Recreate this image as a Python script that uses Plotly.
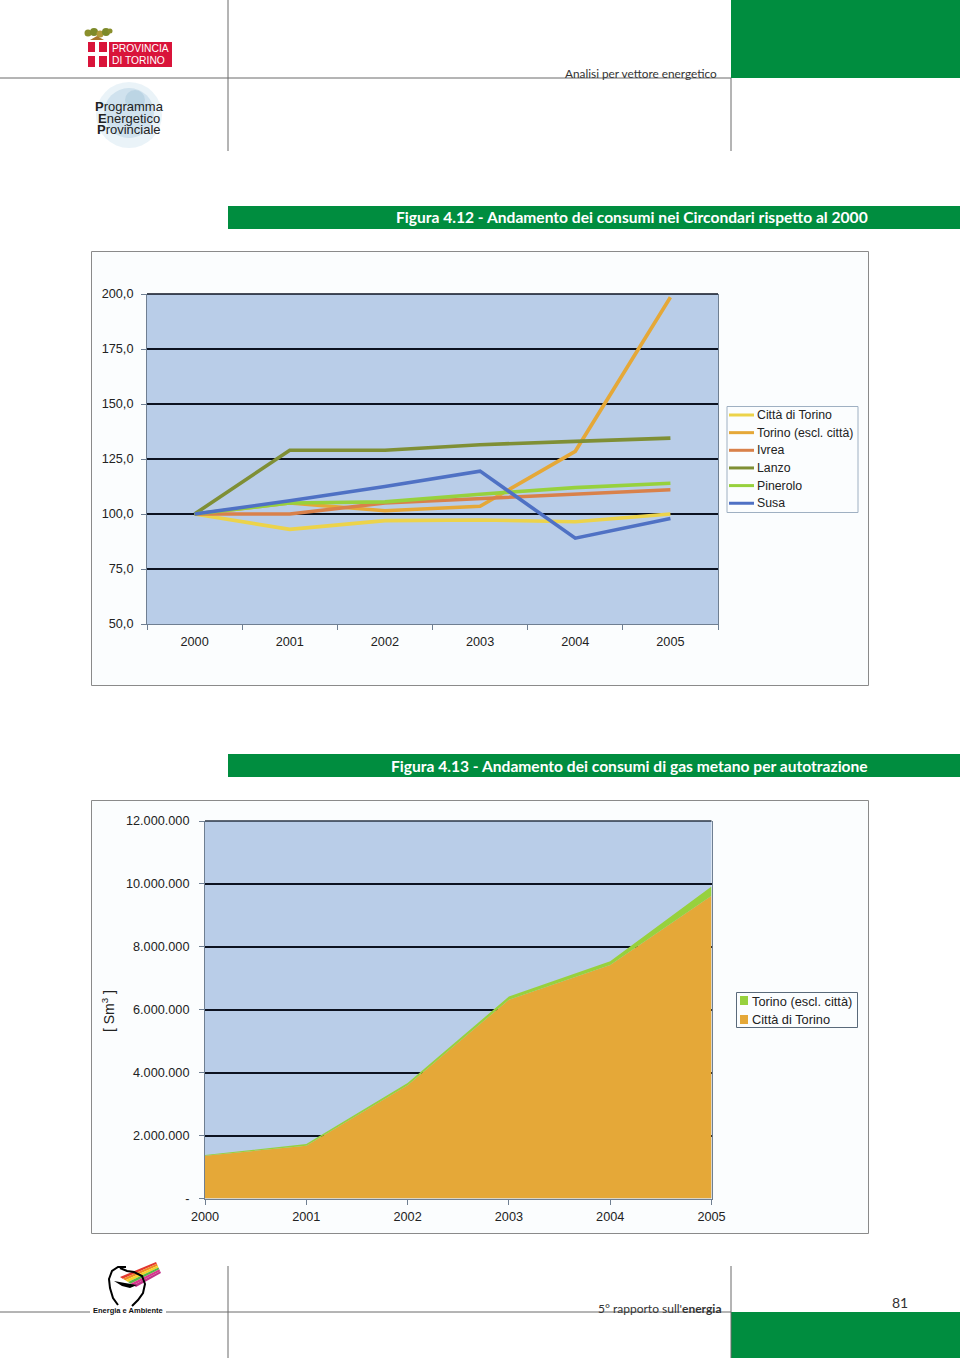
import plotly.graph_objects as go

W, H = 960, 1358

# ---------- data ----------
years = ["2000", "2001", "2002", "2003", "2004", "2005"]
citta = [100, 93, 97, 97.3, 96.5, 100]
torino = [100, 105, 101.5, 103.5, 128.5, 198.5]
ivrea = [100, 100, 105, 107, 109, 111]
lanzo = [100, 129, 129, 131.5, 133, 134.5]
pinerolo = [100, 105, 105.5, 109, 112, 114]
susa = [100, 106, 112.5, 119.5, 89, 98]

index_ticks = [50, 75, 100, 125, 150, 175, 200]
index_labels = ["50,0", "75,0", "100,0", "125,0", "150,0", "175,0", "200,0"]

gas_citta = [1360000, 1680000, 3600000, 6320000, 7420000, 9620000]
gas_torino = [20000, 50000, 70000, 100000, 120000, 300000]
gas_ticks = [0, 2000000, 4000000, 6000000, 8000000, 10000000, 12000000]
gas_labels = ["-", "2.000.000", "4.000.000", "6.000.000", "8.000.000", "10.000.000", "12.000.000"]

title_1 = "Figura 4.12 - Andamento dei consumi nei Circondari rispetto al 2000"
title_2 = "Figura 4.13 - Andamento dei consumi di gas metano per autotrazione"

# ---------- styles ----------
ARIAL = "Liberation Sans"
TITLE_FONT = "Lato"
GREEN = "#008d3f"
LINE = "#6a6a6a"
PLOT_BG = "#b9cde8"
GRID = "#0c1220"
AXIS = "#6f7f92"
C_CITTA = "#ecd34a"
C_TORINO = "#e5a838"
C_IVREA = "#d9814a"
C_LANZO = "#7f8f35"
C_PIN = "#97d13d"
C_SUSA = "#4f71c4"


def X(p):
    return p / W


def Y(p):
    return 1 - p / H


def rect(x0, y0, x1, y1, fill, line=None, lw=1, layer="below"):
    return dict(type="rect", xref="paper", yref="paper", x0=X(x0), x1=X(x1), y0=Y(y0), y1=Y(y1),
                fillcolor=fill, line=dict(color=line or fill, width=lw if line else 0), layer=layer)


def seg(x0, y0, x1, y1, color=LINE, lw=1, layer="below"):
    return dict(type="line", xref="paper", yref="paper", x0=X(x0), x1=X(x1), y0=Y(y0), y1=Y(y1),
                line=dict(color=color, width=lw), layer=layer)


def circ(cx, cy, r, fill, op=1.0):
    return dict(type="circle", xref="paper", yref="paper", x0=X(cx - r), x1=X(cx + r), y0=Y(cy + r), y1=Y(cy - r),
                fillcolor=fill, opacity=op, line=dict(width=0), layer="below")


def poly(pts, fill, line=None, lw=0, close=True):
    d = "M " + " L ".join(f"{X(a):.5f},{Y(b):.5f}" for a, b in pts) + (" Z" if close else "")
    return dict(type="path", xref="paper", yref="paper", path=d, fillcolor=fill if close else "rgba(0,0,0,0)",
                line=dict(color=line or fill, width=lw), layer="below")


def text(x, y, s, size, color="#222", family=ARIAL, anchor="left", **kw):
    return dict(xref="paper", yref="paper", x=X(x), y=Y(y), text=s, showarrow=False, xanchor=anchor, yanchor="middle",
                font=dict(size=size, color=color, family=family), borderpad=0, **kw)


shapes = [
    rect(91.5, 251.5, 868.5, 685.5, "#fbfdfe", "#8a8a8a", 1),
    rect(91.5, 800.5, 868.5, 1233.5, "#fbfdfe", "#8a8a8a", 1),
    rect(147, 294, 718, 624, PLOT_BG),
    rect(205, 821, 711.5, 1198.5, PLOT_BG),
    seg(147, 294, 718, 294, GRID, 1.6),
    seg(205, 821, 711.5, 821, "#2a3444", 1.4),
    rect(731, 0, 960, 78, GREEN),
    rect(731, 1312, 960, 1358, GREEN),
    rect(228, 206, 960, 229, GREEN),
    rect(228, 754, 960, 777, GREEN),
    seg(0, 78, 731, 78),
    seg(228, 0, 228, 151),
    seg(731, 78, 731, 151),
    seg(0, 1312, 90, 1312),
    seg(166, 1312, 731, 1312),
    seg(228, 1266, 228, 1358),
    seg(731, 1266, 731, 1358),
    # Provincia di Torino logo
    rect(88, 42, 172, 67, "#d9143a"),
    rect(107, 42, 109, 67, "#ffffff"),
    rect(95, 42, 99, 67, "#ffffff"),
    rect(88, 52, 107, 56, "#ffffff"),
    circ(88, 33, 3.5, "#8a8f2c"),
    circ(94, 32, 4, "#7d8a2a"),
    circ(100, 34, 3.5, "#b09a3a"),
    circ(106, 32, 4, "#7d8a2a"),
    circ(110, 31, 2.5, "#8a8f2c"),
    poly([(90, 40), (97, 36), (104, 40)], "#a8762c"),
    # Programma Energetico globe
    circ(129, 115, 33, "#dcebf4", 0.6),
    circ(129, 113, 25, "#b5d2e4", 0.5),
    circ(135, 100, 10, "#8fb5cd", 0.3),
]

# Energia e Ambiente logo
rainbow = ["#e2382f", "#f08a24", "#f5d327", "#58b947", "#d9368f", "#c2338a"]
n = len(rainbow)
L0, L1, R0, R1 = (120, 1277), (136, 1287), (156, 1262), (161, 1273)


def mix(a, b, t):
    return (a[0] + (b[0] - a[0]) * t, a[1] + (b[1] - a[1]) * t)


for i, c in enumerate(rainbow):
    shapes.append(poly([mix(L0, L1, i / n), mix(R0, R1, i / n), mix(R0, R1, (i + 1) / n), mix(L0, L1, (i + 1) / n)], c))
shapes += [
    poly([(126, 1267), (118, 1267), (112, 1271), (109, 1279), (110, 1288), (113, 1298), (118, 1305)],
         "#000", "#000", 2, close=False),
    poly([(120, 1268), (127, 1271), (134, 1272), (142, 1276), (145, 1284), (143, 1293), (138, 1300), (132, 1306)],
         "#000", "#000", 2, close=False),
    poly([(114, 1281), (125, 1283), (137, 1285), (130, 1288), (122, 1286)], "#000"),
]

annotations = [
    text(869, 217, "<b>" + title_1 + "</b>", 15.6, "#ffffff", TITLE_FONT, "right"),
    text(869, 766, "<b>" + title_2 + "</b>", 15.6, "#ffffff", TITLE_FONT, "right"),
    text(718, 73.5, "Analisi per vettore energetico", 11.8, "#333", "Lato", "right"),
    text(722, 1308, "5° rapporto sull'<b>energia</b>", 12, "#333", "Lato", "right"),
    text(900, 1302, "81", 14, "#333", "Lato", "center"),
    text(111, 48.5, "PROVINCIA", 10.3, "#ffffff"),
    text(111, 60.5, "DI TORINO", 10.3, "#ffffff"),
    text(129, 106.5, "<b>P</b>rogramma", 13, "#222", anchor="center"),
    text(129, 118, "<b>E</b>nergetico", 13, "#222", anchor="center"),
    text(129, 129.5, "<b>P</b>rovinciale", 13, "#222", anchor="center"),
    text(128, 1310, "<b>Energia e Ambiente</b>", 7.5, "#111", anchor="center"),
    text(108, 1011, "[ Sm<sup>3</sup> ]", 14, anchor="center", textangle=-90),
]

series = [("Città di Torino", citta, C_CITTA), ("Torino (escl. città)", torino, C_TORINO), ("Ivrea", ivrea, C_IVREA),
          ("Lanzo", lanzo, C_LANZO), ("Pinerolo", pinerolo, C_PIN), ("Susa", susa, C_SUSA)]

# legend of the index chart
shapes.append(rect(727, 406.5, 858, 512.5, "#fbfdfe", "#9fb0c2", 1))
for i, (name, _, col) in enumerate(series):
    yy = 415 + i * 17.65
    shapes.append(seg(729, yy, 754, yy, col, 3))
    annotations.append(text(755.5, yy, name, 12.3))

# legend of the gas chart
shapes += [
    rect(736.5, 992.5, 857.5, 1027.5, "#fbfdfe", "#5a6a7a", 1),
    rect(740, 996, 748, 1005, C_PIN),
    rect(740, 1015, 748, 1024, C_TORINO),
]
annotations += [text(750.5, 1001, "Torino (escl. città)", 12.8), text(750.5, 1019, "Città di Torino", 12.8)]

fig = go.Figure()

for name, vals, col in series:
    fig.add_trace(go.Scatter(x=years, y=vals, name=name, mode="lines", line=dict(color=col, width=3.6),
                             xaxis="x", yaxis="y", showlegend=False))

fig.add_trace(go.Scatter(x=years, y=gas_citta, name="Città di Torino", mode="lines", stackgroup="gas",
                         line=dict(width=0, color=C_TORINO), fillcolor=C_TORINO, xaxis="x2", yaxis="y2",
                         showlegend=False))
fig.add_trace(go.Scatter(x=years, y=gas_torino, name="Torino (escl. città)", mode="lines", stackgroup="gas",
                         line=dict(width=0, color=C_PIN), fillcolor=C_PIN, xaxis="x2", yaxis="y2",
                         showlegend=False))

tick_font = dict(family=ARIAL, size=12.7, color="#222")
common_axis = dict(showline=True, linecolor=AXIS, linewidth=1, ticks="outside", tickcolor=AXIS, ticklen=5,
                   tickfont=tick_font, zeroline=False, automargin=False)

fig.update_layout(
    width=W, height=H, autosize=False,
    margin=dict(l=0, r=0, t=0, b=0, pad=0),
    paper_bgcolor="#ffffff", plot_bgcolor="rgba(0,0,0,0)",
    shapes=shapes, annotations=annotations,
    font=dict(family=ARIAL),
    xaxis=dict(common_axis, type="category", categoryorder="array", categoryarray=years, range=[-0.5, 5.5],
               tickson="boundaries", domain=[X(147), X(718)], anchor="y", showgrid=False, ticklabelstandoff=6),
    yaxis=dict(common_axis, range=[50, 200], tickvals=index_ticks, ticktext=index_labels, mirror=True,
               domain=[Y(624), Y(294)], anchor="x", showgrid=True, gridcolor=GRID, gridwidth=1.6, ticklabelstandoff=5),
    xaxis2=dict(common_axis, type="category", categoryorder="array", categoryarray=years, range=[0, 5],
                domain=[X(205), X(711.5)], anchor="y2", showgrid=False, ticklabelstandoff=1),
    yaxis2=dict(common_axis, range=[0, 12000000], tickvals=gas_ticks, ticktext=gas_labels, mirror=True,
                domain=[Y(1198.5), Y(821)], anchor="x2", showgrid=True, gridcolor=GRID, gridwidth=1.6,
                ticklabelstandoff=7),
    showlegend=False,
    hovermode=False,
)

fig.write_html("out.html", post_script="document.body.style.margin='0';", config=dict(displayModeBar=False))
